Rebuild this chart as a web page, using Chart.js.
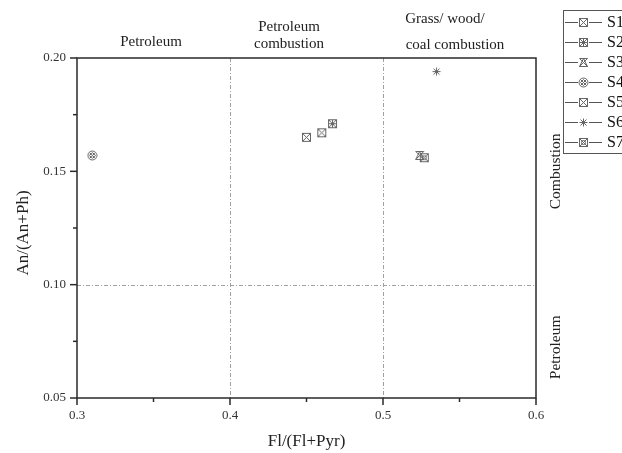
<!DOCTYPE html>
<html><head><meta charset="utf-8">
<script src="https://cdn.jsdelivr.net/npm/chart.js@4.4.1/dist/chart.umd.min.js"></script>
<style>html,body{margin:0;padding:0;background:#fff;overflow:hidden}</style>
</head><body>
<canvas id="c" width="622" height="453"></canvas>
<script>
// ---- data ----
const sampleNames = ['S1','S2','S3','S4','S5','S6','S7'];
const flRatio = [0.450, 0.467, 0.524, 0.310, 0.460, 0.535, 0.527];
const anRatio = [0.165, 0.171, 0.157, 0.157, 0.167, 0.194, 0.156];
const markerKinds = ['sqx','sqgrid','hourglass','circgrid','sqx2','star','sqxc'];
const xTickValues = [0.3, 0.4, 0.5, 0.6];
const yTickValues = [0.05, 0.10, 0.15, 0.20];
const xMinorValues = [0.35, 0.45, 0.55];
const yMinorValues = [0.075, 0.125, 0.175];
const xBoundaries = [0.4, 0.5];
const yBoundaries = [0.10];
const xTitle = 'Fl/(Fl+Pyr)';
const yTitle = 'An/(An+Ph)';

const SERIF = '"Liberation Serif", "Times New Roman", serif';
const MARK = '#666';

function makeMarker(kind){
  const s = 11, c = document.createElement('canvas');
  c.width = s; c.height = s;
  const g = c.getContext('2d');
  g.strokeStyle = MARK; g.lineWidth = 1;
  g.translate(0.5, 0.5);
  const L = 1, R = 9, T = 1, B = 9, M = 5;
  const line = (a,b,c2,d)=>{ g.beginPath(); g.moveTo(a,b); g.lineTo(c2,d); g.stroke(); };
  if (kind.startsWith('sq')) {
    g.strokeRect(L, T, R-L, B-T);
    line(L,T,R,B); line(R,T,L,B);
    if (kind === 'sqgrid') { line(M,T,M,B); line(L,M,R,M); }
    if (kind === 'sqxc') { g.beginPath(); g.arc(M,M,2,0,Math.PI*2); g.stroke(); }
  } else if (kind === 'hourglass') {
    g.beginPath(); g.moveTo(L,T); g.lineTo(R,T); g.lineTo(L,B); g.lineTo(R,B); g.closePath(); g.stroke();
    g.beginPath(); g.moveTo(M,T); g.lineTo(L,B); g.lineTo(R,B); g.closePath(); g.stroke();
  } else if (kind === 'circgrid') {
    g.beginPath(); g.arc(M,M,4.5,0,Math.PI*2); g.stroke();
    line(L+1,T+1,R-1,B-1); line(R-1,T+1,L+1,B-1);
    line(L+1,M,M,T+1); line(M,B-1,R-1,M); line(M,T+1,R-1,M); line(L+1,M,M,B-1);
  } else if (kind === 'star') {
    line(M,T,M,B); line(L,M,R,M); line(L+1,T+1,R-1,B-1); line(R-1,T+1,L+1,B-1);
  }
  return c;
}
const markers = markerKinds.map(makeMarker);

const datasets = sampleNames.map((n,i)=>({
  label: n,
  data: [{x: flRatio[i], y: anRatio[i]}],
  pointStyle: markers[i],
  pointRadius: 5,
  showLine: false
}));

const decor = {
  id: 'decor',
  beforeDatasetsDraw(chart){
    const {ctx, chartArea:a, scales:{x, y}} = chart;
    ctx.save();
    // dashed boundary lines
    ctx.strokeStyle = '#a0a0a0'; ctx.lineWidth = 1; ctx.setLineDash([4,2,1,2]);
    xBoundaries.forEach(v=>{ const p = Math.round(x.getPixelForValue(v))+0.5;
      ctx.beginPath(); ctx.moveTo(p, a.top); ctx.lineTo(p, a.bottom); ctx.stroke(); });
    yBoundaries.forEach(v=>{ const p = Math.round(y.getPixelForValue(v))+0.5;
      ctx.beginPath(); ctx.moveTo(a.left, p); ctx.lineTo(a.right, p); ctx.stroke(); });
    ctx.setLineDash([]);
    // frame
    ctx.strokeStyle = '#2a2a2a'; ctx.lineWidth = 1.5;
    ctx.strokeRect(a.left, a.top, a.right - a.left, a.bottom - a.top);
    // ticks
    ctx.lineWidth = 1.5;
    xTickValues.forEach(v=>{ const p = x.getPixelForValue(v);
      ctx.beginPath(); ctx.moveTo(p, a.bottom); ctx.lineTo(p, a.bottom+7); ctx.stroke(); });
    xMinorValues.forEach(v=>{ const p = x.getPixelForValue(v);
      ctx.beginPath(); ctx.moveTo(p, a.bottom); ctx.lineTo(p, a.bottom+4); ctx.stroke(); });
    yTickValues.forEach(v=>{ const p = y.getPixelForValue(v);
      ctx.beginPath(); ctx.moveTo(a.left, p); ctx.lineTo(a.left-7, p); ctx.stroke(); });
    yMinorValues.forEach(v=>{ const p = y.getPixelForValue(v);
      ctx.beginPath(); ctx.moveTo(a.left, p); ctx.lineTo(a.left-4, p); ctx.stroke(); });
    // texts
    ctx.fillStyle = '#222'; ctx.textAlign = 'center'; ctx.textBaseline = 'middle';
    ctx.font = '15px ' + SERIF;
    ctx.fillText('Petroleum', 151, 42);
    ctx.fillText('Petroleum', 289, 27);
    ctx.fillText('combustion', 289, 44);
    ctx.fillText('Grass/ wood/', 445, 19);
    ctx.fillText('coal combustion', 455, 45);
    ctx.font = '17px ' + SERIF;
    ctx.fillText(xTitle, (a.left + a.right)/2, 442);
    ctx.save(); ctx.translate(24, (a.top + a.bottom)/2 + 5); ctx.rotate(-Math.PI/2);
    ctx.fillText(yTitle, 0, 0); ctx.restore();
    ctx.font = '15.5px ' + SERIF;
    ctx.save(); ctx.translate(556, y.getPixelForValue(0.15)); ctx.rotate(-Math.PI/2);
    ctx.fillText('Combustion', 0, 0); ctx.restore();
    ctx.save(); ctx.translate(556, y.getPixelForValue(0.075) + 6); ctx.rotate(-Math.PI/2);
    ctx.fillText('Petroleum', 0, 0); ctx.restore();
    // legend
    ctx.fillStyle = '#fff';
    ctx.fillRect(563, 10, 70, 143);
    ctx.strokeStyle = '#555'; ctx.lineWidth = 1;
    ctx.strokeRect(563.5, 10.5, 70, 143);
    ctx.font = '16px ' + SERIF; ctx.textAlign = 'left'; ctx.fillStyle = '#111';
    chart.data.datasets.forEach((d,i)=>{
      const yy = 22 + i*20;
      ctx.strokeStyle = '#555'; ctx.lineWidth = 1;
      ctx.beginPath(); ctx.moveTo(565, yy+0.5); ctx.lineTo(602, yy+0.5); ctx.stroke();
      ctx.fillStyle = '#fff'; ctx.fillRect(578, yy-5, 11, 11);
      ctx.drawImage(d.pointStyle, 578, yy-5);
      ctx.fillStyle = '#111';
      ctx.fillText(d.label, 607, yy+1);
    });
    ctx.restore();
  }
};

new Chart(document.getElementById('c'), {
  type: 'scatter',
  data: { datasets },
  options: {
    responsive: false, animation: false, devicePixelRatio: 1,
    layout: { padding: { top: 58, right: 86, left: 0, bottom: 0 } },
    plugins: { legend: { display: false }, tooltip: { enabled: false } },
    scales: {
      x: {
        type: 'linear', min: 0.3, max: 0.6,
        afterBuildTicks: s => { s.ticks = xTickValues.map(v=>({value:v})); },
        afterFit: s => { s.height = 55; },
        grid: { display: false, drawTicks: false }, border: { display: false },
        ticks: { padding: 10, color: '#333', font: { family: SERIF, size: 13 },
                 callback: v => Number(v).toFixed(1) }
      },
      y: {
        type: 'linear', min: 0.05, max: 0.20,
        afterBuildTicks: s => { s.ticks = yTickValues.map(v=>({value:v})); },
        afterFit: s => { s.width = 77; },
        grid: { display: false, drawTicks: false }, border: { display: false },
        ticks: { padding: 11, color: '#333', font: { family: SERIF, size: 13 },
                 callback: v => Number(v).toFixed(2) }
      }
    }
  },
  plugins: [decor]
});
</script>
</body></html>
